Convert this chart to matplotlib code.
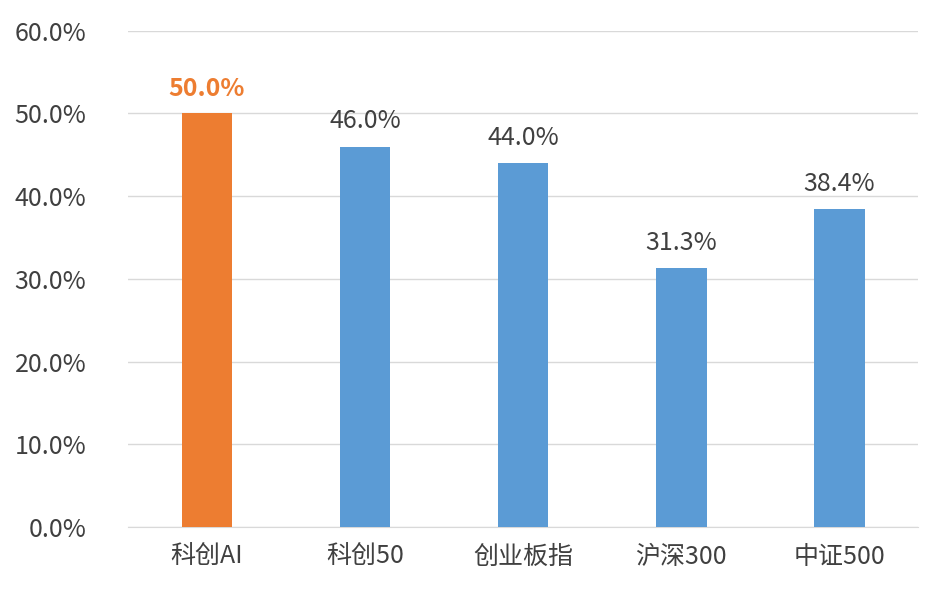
import matplotlib
matplotlib.use("Agg")
import matplotlib.pyplot as plt
from matplotlib.ticker import FuncFormatter

categories = ["科创AI", "科创50", "创业板指", "沪深300", "中证500"]
values = [50.0, 46.0, 44.0, 31.3, 38.4]
colors = ["#ED7D31", "#5B9BD5", "#5B9BD5", "#5B9BD5", "#5B9BD5"]
label_colors = ["#ED7D31", "#404040", "#404040", "#404040", "#404040"]

plt.rcParams['font.family'] = ['Noto Sans CJK SC', 'DejaVu Sans']
fig = plt.figure(figsize=(9.41, 6.15), dpi=100)
ax = fig.add_axes([0.136, 0.143, 0.84, 0.807])
x = range(len(categories))
ax.bar(x, values, width=0.32, color=colors, zorder=3)
for i, v in enumerate(values):
    ax.text(i, v + 1.5, f"{v:.1f}%", ha="center", va="bottom", fontsize=18,
            color=label_colors[i], fontweight="bold" if i == 0 else "normal")
ax.set_xlim(-0.5, 4.5)
ax.set_ylim(0, 60)
ax.set_yticks(range(0, 61, 10))
ax.yaxis.set_major_formatter(FuncFormatter(lambda v, p: f"{v:.1f}%"))
ax.set_xticks(list(x))
ax.set_xticklabels(categories)
ax.grid(axis="y", color="#D9D9D9", linewidth=1, zorder=0)
for s in ["top", "right", "left"]:
    ax.spines[s].set_visible(False)
ax.spines["bottom"].set_color("#D9D9D9")
ax.tick_params(axis="both", length=0, labelsize=18, colors="#404040")
ax.tick_params(axis="y", pad=30)
ax.tick_params(axis="x", pad=12)
fig.savefig("out.png", dpi=100)
